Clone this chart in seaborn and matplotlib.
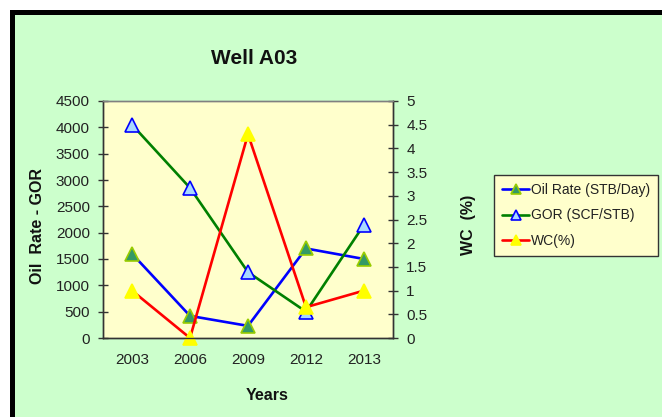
import numpy as np
import matplotlib
matplotlib.use("Agg")
import matplotlib.pyplot as plt
from matplotlib.patches import Rectangle
from matplotlib.ticker import FixedLocator, FuncFormatter, NullFormatter
import seaborn as sns

years = ["2003", "2006", "2009", "2012", "2013"]
oil_rate = [1600, 420, 230, 1700, 1500]     # STB/Day
gor = [4050, 2850, 1250, 500, 2150]          # SCF/STB
wc = [1.0, 0.0, 4.3, 0.65, 1.0]              # %

BG_GREEN = "#CCFFCC"
PLOT_YELLOW = "#FFFFCC"

sns.set_theme(style="white")
plt.rcParams["font.family"] = ["Liberation Sans", "DejaVu Sans"]

W, H = 662, 417
fig = plt.figure(figsize=(W / 100, H / 100), dpi=100, facecolor="white")

# outer chart area with the thick black frame (cropped on the right/bottom)
top = 1 - 12 / H
fig.patches.append(Rectangle((11.5 / W, -0.2), 1.5, top + 0.2,
                             transform=fig.transFigure, facecolor=BG_GREEN,
                             edgecolor="black", linewidth=3.6, zorder=-5))

ax = fig.add_axes([103 / W, 1 - 338 / H, 290 / W, 237 / H])
ax.set_facecolor(PLOT_YELLOW)
x = np.arange(len(years))

line_kw = dict(lw=1.9, marker="^", markersize=9.5, markeredgewidth=1.2,
               legend=False, clip_on=False)
sns.lineplot(x=x, y=oil_rate, ax=ax, color="#0000FF", markerfacecolor="#339966",
             markeredgecolor="#99CC00", label="Oil Rate (STB/Day)", **line_kw)
sns.lineplot(x=x, y=gor, ax=ax, color="#008000", markerfacecolor="#A8D8FF",
             markeredgecolor="#0000FF", label="GOR (SCF/STB)", **line_kw)

ax2 = ax.twinx()
sns.lineplot(x=x, y=wc, ax=ax2, color="#FF0000", markerfacecolor="#FFFF00",
             markeredgecolor="#FFFF00", label="WC(%)", **line_kw)

ax.set_xlim(-0.5, len(years) - 0.5)
ax.set_ylim(0, 4500)
ax2.set_ylim(0, 5)
ax.set_yticks(np.arange(0, 4501, 500))
ax2.set_yticks(np.arange(0, 5.01, 0.5))
ax2.yaxis.set_major_formatter(FuncFormatter(lambda v, p: f"{v:g}"))

# category boundaries get the tick marks, labels sit between them
ax.xaxis.set_major_locator(FixedLocator(np.arange(-0.5, len(years), 1.0)))
ax.xaxis.set_major_formatter(NullFormatter())
ax.xaxis.set_minor_locator(FixedLocator(x))
ax.set_xticklabels(years, minor=True)

tick_kw = dict(direction="inout", length=7, width=1.0, color="#333333",
               labelsize=11, labelcolor="#222222", pad=6)
ax.tick_params(axis="x", which="major", **tick_kw)
ax.tick_params(axis="x", which="minor", length=0, labelsize=11,
               labelcolor="#222222", pad=11)
ax.tick_params(axis="y", which="major", left=True, **tick_kw)
ax2.tick_params(axis="y", which="major", right=True, **tick_kw)

for a in (ax, ax2):
    for side in ("left", "right", "bottom"):
        a.spines[side].set_color("#333333")
        a.spines[side].set_linewidth(1.0)
    a.spines["top"].set_color("#808080")
    a.spines["top"].set_linewidth(1.0)
    a.grid(False)
    a.set_xlabel("")
    a.set_ylabel("")

fig.text(254 / W, 1 - 58 / H, "Well A03", ha="center", va="center",
         fontsize=15, fontweight="bold", color="#111111")
fig.text(267 / W, 1 - 395 / H, "Years", ha="center", va="center",
         fontsize=11.5, fontweight="bold", color="#111111")
fig.text(38 / W, 1 - 226 / H, "Oil  Rate - GOR", ha="center", va="center",
         rotation=90, fontsize=11.5, fontweight="bold", color="#111111")
fig.text(469 / W, 1 - 225 / H, "WC  (%)", ha="center", va="center",
         rotation=90, fontsize=11.5, fontweight="bold", color="#111111")

handles = ax.get_lines()[:2] + ax2.get_lines()[:1]
labels = ["Oil Rate (STB/Day)", "GOR (SCF/STB)", "WC(%)"]
leg = fig.legend(handles, labels, loc="upper left",
                 bbox_to_anchor=(494 / W, 1 - 175 / H), bbox_transform=fig.transFigure,
                 fontsize=10, frameon=True, fancybox=False, framealpha=1,
                 facecolor=PLOT_YELLOW, edgecolor="#333333", handlelength=2.0,
                 handletextpad=0.1, labelspacing=0.85, borderpad=0.55,
                 borderaxespad=0, markerscale=0.8)
leg.get_frame().set_linewidth(1.0)
for t in leg.get_texts():
    t.set_color("#222222")

fig.savefig("out.png", dpi=100, facecolor=fig.get_facecolor())
